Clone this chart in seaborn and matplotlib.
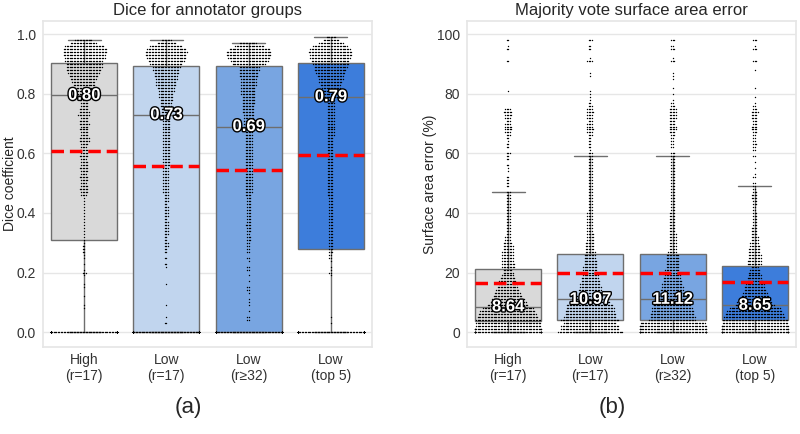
import warnings
import numpy as np
import pandas as pd
import matplotlib
matplotlib.use("Agg")
import matplotlib.pyplot as plt
import matplotlib.patheffects as pe
import seaborn as sns

warnings.filterwarnings("ignore")

sns.set_theme(style="whitegrid")
plt.rcParams['font.family'] = ['Liberation Sans', 'DejaVu Sans']
plt.rcParams['axes.edgecolor'] = '#e6e6e6'
plt.rcParams['grid.color'] = '#e6e6e6'

groups = ["High\n(r=17)", "Low\n(r=17)", "Low\n(r≥32)", "Low\n(top 5)"]
palette = ["#d9d9d9", "#c1d5ee", "#78a5e1", "#3d7ddb"]

# dice coefficient, counts per 0.01 bin (0.00 .. 0.99)
dice_values = np.arange(100) / 100
dice_high = [180, 0, 0, 0, 0, 0, 0, 0, 1, 1,
             0, 0, 1, 0, 0, 1, 1, 0, 0, 1,
             3, 1, 0, 1, 0, 1, 1, 2, 2, 2,
             1, 1, 1, 1, 1, 1, 1, 1, 1, 1,
             1, 1, 1, 1, 1, 1, 4, 5, 6, 5,
             4, 5, 6, 4, 5, 6, 5, 5, 4, 6,
             5, 6, 4, 5, 7, 7, 5, 5, 6, 5,
             7, 6, 5, 8, 7, 6, 5, 5, 6, 5,
             10, 12, 13, 15, 16, 18, 20, 22, 24, 25,
             25, 26, 28, 29, 30, 30, 27, 18, 12, 0]
dice_low17 = [214, 0, 0, 2, 0, 1, 0, 0, 0, 1,
              0, 0, 0, 0, 0, 0, 1, 0, 0, 0,
              0, 0, 1, 2, 0, 2, 0, 2, 2, 3,
              3, 2, 2, 3, 3, 3, 3, 3, 2, 3,
              3, 3, 3, 2, 3, 3, 3, 4, 4, 4,
              4, 4, 4, 4, 4, 4, 5, 5, 5, 5,
              5, 5, 5, 5, 5, 5, 5, 5, 5, 5,
              5, 5, 5, 6, 7, 7, 8, 8, 9, 10,
              10, 11, 12, 14, 14, 15, 16, 17, 18, 19,
              22, 25, 27, 28, 29, 27, 22, 13, 7, 0]
dice_low32 = [210, 0, 0, 0, 2, 2, 0, 1, 0, 1,
              1, 1, 0, 1, 2, 2, 0, 1, 0, 1,
              0, 2, 2, 0, 1, 2, 0, 2, 2, 2,
              2, 3, 3, 2, 3, 3, 4, 3, 3, 3,
              3, 3, 3, 3, 3, 3, 4, 5, 5, 5,
              5, 5, 5, 5, 5, 5, 5, 5, 5, 5,
              5, 5, 5, 5, 5, 5, 5, 5, 5, 6,
              6, 7, 7, 7, 8, 8, 8, 9, 9, 9,
              10, 10, 10, 11, 11, 11, 13, 13, 14, 14,
              23, 26, 29, 31, 31, 28, 20, 12, 0, 0]
dice_top5 = [185, 0, 0, 1, 0, 1, 0, 0, 0, 0,
             0, 0, 0, 0, 0, 0, 0, 0, 0, 1,
             2, 1, 1, 0, 1, 2, 2, 3, 3, 3,
             3, 3, 3, 3, 3, 3, 3, 3, 3, 3,
             3, 3, 3, 3, 3, 3, 4, 4, 4, 4,
             4, 4, 4, 4, 4, 4, 4, 4, 4, 4,
             4, 4, 4, 4, 4, 4, 5, 5, 5, 5,
             5, 5, 5, 5, 5, 5, 5, 5, 5, 10,
             11, 12, 13, 14, 16, 17, 18, 20, 22, 23,
             25, 26, 28, 29, 30, 28, 24, 17, 11, 7]

# surface area error (%), counts per 1% bin (0 .. 98)
sae_values = np.arange(99)
sae_high = [60, 50, 45, 45, 45, 42, 40, 38, 35, 28,
            25, 23, 20, 18, 16, 14, 13, 12, 10, 8,
            7, 6, 9, 9, 8, 8, 8, 8, 7, 7,
            6, 4, 4, 3, 3, 3, 3, 3, 3, 3,
            3, 3, 3, 3, 3, 3, 3, 3, 0, 2,
            2, 2, 2, 0, 1, 1, 2, 0, 2, 2,
            3, 0, 2, 2, 1, 2, 3, 4, 5, 5,
            4, 3, 4, 5, 6, 4, 0, 0, 0, 0,
            0, 1, 0, 0, 0, 0, 0, 0, 0, 0,
            0, 2, 0, 0, 0, 2, 1, 0, 2]
sae_low17 = [45, 40, 40, 36, 40, 36, 35, 34, 33, 32,
             28, 20, 18, 17, 16, 15, 14, 13, 12, 11,
             11, 10, 10, 9, 9, 8, 8, 7, 6, 6,
             6, 5, 5, 5, 4, 4, 4, 4, 4, 4,
             4, 3, 3, 3, 3, 3, 3, 3, 3, 3,
             3, 3, 3, 3, 3, 3, 3, 3, 3, 3,
             3, 1, 2, 2, 2, 2, 3, 4, 5, 4,
             4, 3, 4, 4, 5, 4, 3, 2, 1, 1,
             1, 1, 0, 0, 0, 0, 1, 1, 0, 0,
             0, 4, 1, 0, 0, 2, 2, 0, 3]
sae_low32 = [56, 50, 48, 45, 32, 31, 30, 29, 28, 26,
             24, 20, 18, 17, 16, 15, 14, 13, 12, 11,
             10, 10, 9, 9, 9, 9, 9, 6, 5, 5,
             5, 5, 5, 5, 4, 4, 4, 4, 4, 4,
             4, 3, 3, 3, 3, 3, 3, 3, 3, 3,
             3, 3, 3, 3, 3, 3, 3, 3, 3, 3,
             3, 0, 2, 2, 2, 2, 3, 4, 5, 5,
             4, 4, 5, 5, 5, 5, 3, 2, 1, 0,
             1, 0, 1, 0, 0, 1, 1, 1, 0, 0,
             0, 3, 1, 0, 0, 3, 2, 0, 3]
sae_top5 = [56, 50, 48, 45, 45, 42, 40, 38, 35, 27,
            24, 22, 19, 17, 15, 14, 13, 11, 10, 9,
            8, 7, 5, 10, 10, 9, 9, 8, 8, 7,
            6, 5, 5, 4, 4, 4, 3, 3, 3, 3,
            3, 2, 2, 3, 3, 4, 4, 3, 2, 2,
            2, 0, 2, 1, 0, 1, 0, 1, 0, 2,
            0, 2, 2, 3, 2, 2, 2, 3, 4, 4,
            3, 3, 4, 4, 5, 3, 2, 1, 0, 1,
            0, 0, 1, 0, 0, 0, 0, 0, 1, 0,
            0, 3, 0, 0, 0, 3, 1, 0, 3]

dice_medians = ["0.80", "0.73", "0.69", "0.79"]
sae_medians = ["8.64", "10.97", "11.12", "8.65"]


def make_frame(values, counts_list):
    parts = []
    for g, counts in zip(groups, counts_list):
        parts.append(pd.DataFrame({"group": g, "value": np.repeat(values, counts)}))
    return pd.concat(parts, ignore_index=True)


df_dice = make_frame(dice_values, [dice_high, dice_low17, dice_low32, dice_top5])
df_sae = make_frame(sae_values, [sae_high, sae_low17, sae_low32, sae_top5])

fig = plt.figure(figsize=(8, 4.34), dpi=100)
ax1 = fig.add_axes([43 / 800, 0.2005, 329 / 800, 0.751])
ax2 = fig.add_axes([467 / 800, 0.2005, 329 / 800, 0.751])


def panel(ax, df, labels, title, ylabel, ylim, yticks, fmt, ylab_x):
    sns.boxplot(data=df, x="group", y="value", hue="group", order=groups, palette=palette,
                saturation=1, width=0.8, showfliers=False, showmeans=True, meanline=True,
                meanprops=dict(color="red", linestyle=(0, (3.6, 1.7)), linewidth=2.5, zorder=5),
                linecolor="#6e6e6e", linewidth=1, legend=False, ax=ax)
    sns.swarmplot(data=df, x="group", y="value", order=groups, color="black", size=1.0,
                  linewidth=0, zorder=3, ax=ax)
    meds = df.groupby("group", sort=False)["value"].median()
    for i, g in enumerate(groups):
        ax.text(i, meds[g], labels[i], ha="center", va="center", color="white",
                fontsize=12, fontweight="bold", zorder=6,
                path_effects=[pe.withStroke(linewidth=2, foreground="black")])
    ax.set_ylim(*ylim)
    ax.set_xlim(-0.5, 3.5)
    ax.set_yticks(yticks)
    ax.set_yticklabels([fmt.format(t) for t in yticks])
    ax.set_title(title, fontsize=12, pad=4)
    ax.set_xlabel("")
    ax.set_ylabel(ylabel, fontsize=10)
    ax.yaxis.set_label_coords(ylab_x, 0.5)
    ax.tick_params(labelsize=10, colors="#333333", length=0)
    ax.tick_params(axis="x", pad=4)
    ax.tick_params(axis="y", pad=5)
    ax.xaxis.grid(False)


panel(ax1, df_dice, dice_medians, "Dice for annotator groups", "Dice coefficient",
      (-0.05, 1.044), [0, 0.2, 0.4, 0.6, 0.8, 1.0], "{:.1f}", -0.079)
panel(ax2, df_sae, sae_medians, "Majority vote surface area error", "Surface area error (%)",
      (-5, 104.4), [0, 20, 40, 60, 80, 100], "{:.0f}", -0.091)

fig.text(0.235, 0.062, "(a)", ha="center", va="center", fontsize=16)
fig.text(0.765, 0.062, "(b)", ha="center", va="center", fontsize=16)

fig.savefig("out.png", dpi=100)
